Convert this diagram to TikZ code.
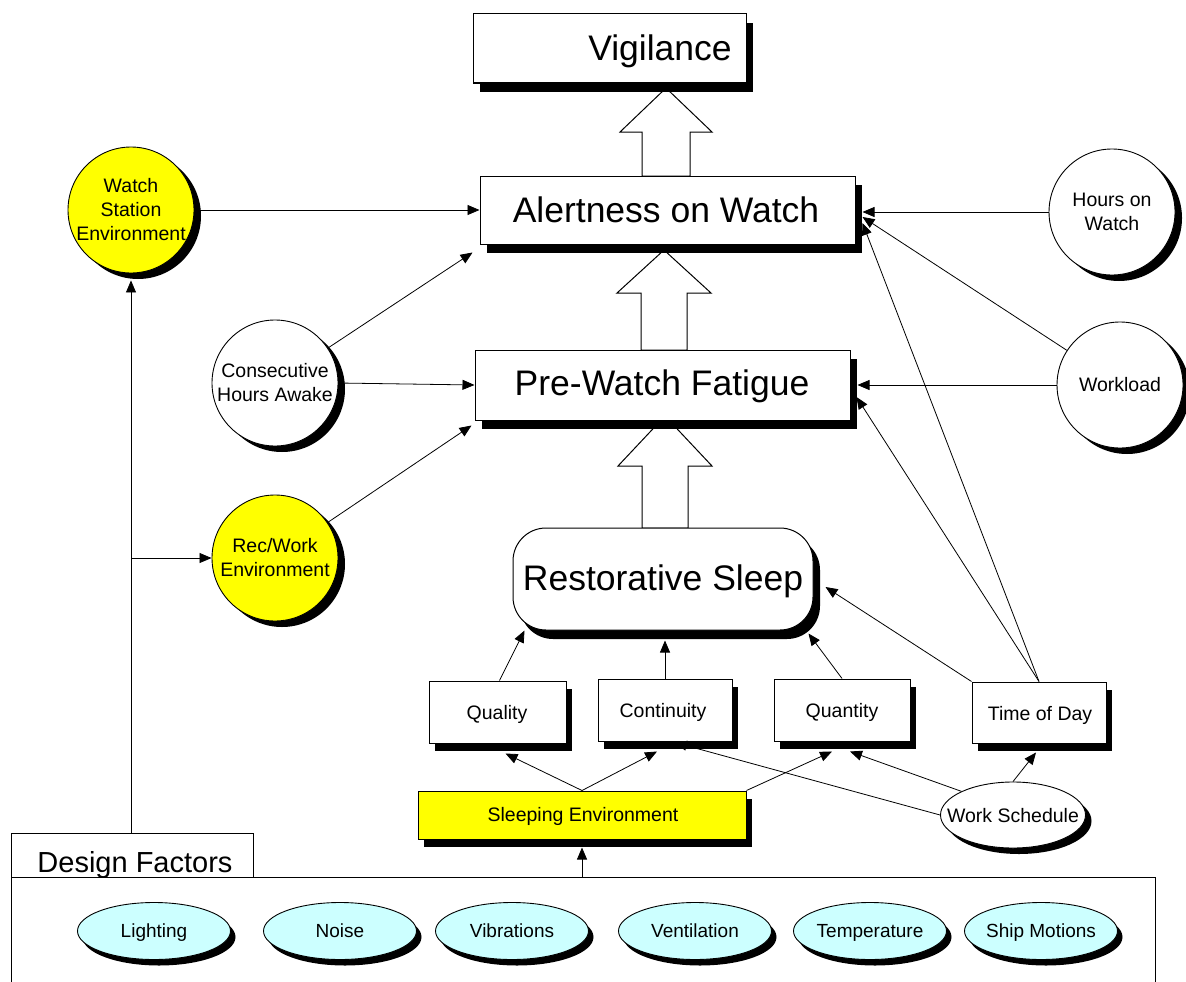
\documentclass[tikz,border=0pt]{standalone}
\usepackage{fontspec}
\setmainfont{Liberation Sans}
\usetikzlibrary{arrows.meta,shapes.geometric,shadows,calc}
\definecolor{yel}{HTML}{FFFF00}
\definecolor{cyn}{HTML}{CCFFFF}
\begin{document}
\begin{tikzpicture}[x=1pt,y=-1pt,
  shad/.style={drop shadow={opacity=1,fill=black,shadow xshift=7pt,shadow yshift=-9pt}},
  sshad/.style={drop shadow={opacity=1,fill=black,shadow xshift=6pt,shadow yshift=-8pt}},
  cshad/.style={drop shadow={opacity=1,fill=black,shadow xshift=7pt,shadow yshift=-6pt}},
  box/.style={draw,fill=white,line width=1pt,inner sep=0pt,shad},
  sbox/.style={draw,fill=white,line width=1pt,inner sep=0pt,sshad},
  bigtxt/.style={font=\fontsize{35.5}{40}\selectfont,inner sep=0pt},
  smtxt/.style={font=\fontsize{19.5}{23}\selectfont,inner sep=0pt},
  circ/.style={circle,draw,fill=white,line width=0.9pt,minimum size=126pt,inner sep=0pt,align=center,cshad,font=\fontsize{19.5}{24}\selectfont},
  ell/.style={ellipse,draw,fill=cyn,line width=0.9pt,minimum width=153pt,minimum height=57pt,inner sep=0pt,text height=13.6pt,text depth=0pt,drop shadow={opacity=1,fill=black,shadow xshift=5pt,shadow yshift=-6pt},font=\fontsize{19}{23}\selectfont},
  conn/.style={line width=0.8pt,-{Triangle[length=12pt,width=10pt]}},
  blk/.style={draw,fill=white,line width=1pt}]
\useasboundingbox (0,0) rectangle (1186,982);

% block arrows (drawn first, boxes cover their ends)
\draw[blk] (642,176) -- (642,132) -- (620,132) -- (666,88) -- (712,132) -- (690,132) -- (690,176) -- cycle;
\draw[blk] (641,350) -- (641,293) -- (617,293) -- (664,250) -- (711,293) -- (687,293) -- (687,350) -- cycle;
\draw[blk] (642,528) -- (642,466) -- (618,466) -- (665,416) -- (712,466) -- (688,466) -- (688,528) -- cycle;

% main boxes
\node[box,minimum width=273pt,minimum height=69pt] (vig) at (609.5,48.5) {};
\node[bigtxt,anchor=base] (vigt) at (660,60) {Vigilance};
\node[box,minimum width=375pt,minimum height=68pt] (alert) at (667.5,210) {};
\node[bigtxt,anchor=base] (alertt) at (666,222) {Alertness on Watch};
\node[box,minimum width=375pt,minimum height=70pt] (pre) at (662.5,385) {};
\node[bigtxt,anchor=base] (pret) at (662,395) {Pre-Watch Fatigue};
\node[box,rounded corners=33pt,minimum width=300pt,minimum height=102pt] (rest) at (663,579) {};
\node[bigtxt,anchor=base] (restt) at (663,590) {Restorative Sleep};

% small boxes
\node[sbox,minimum width=137pt,minimum height=62pt] (quality) at (497.5,712) {};
\node[smtxt,anchor=base] (qualityt) at (497,719) {Quality};
\node[sbox,minimum width=134pt,minimum height=62pt] (cont) at (665,710) {};
\node[smtxt,anchor=base] (contt) at (663,717) {Continuity};
\node[sbox,minimum width=136pt,minimum height=62pt] (quant) at (842,710) {};
\node[smtxt,anchor=base] (quantt) at (842,717) {Quantity};
\node[sbox,minimum width=134pt,minimum height=61pt] (tod) at (1039,712.5) {};
\node[smtxt,anchor=base] (todt) at (1040,720) {Time of Day};
\node[sbox,fill=yel,minimum width=328pt,minimum height=48pt] (sleep) at (582,815) {};
\node[smtxt,anchor=base] (sleept) at (583,821) {Sleeping Environment};
\node[ellipse,draw,fill=white,line width=0.9pt,minimum width=145pt,minimum height=66pt,inner sep=0pt,
      text height=14pt,text depth=0pt,
      drop shadow={opacity=1,fill=black,shadow xshift=6pt,shadow yshift=-6pt},
      font=\fontsize{19.5}{23}\selectfont] (work) at (1013,815) {\makebox[0pt]{Work Schedule}};

% circles
\node[circ,fill=yel] (watch) at (131,210) {Watch\\Station\\Environment};
\node[circ] (consec) at (275,383) {Consecutive\\Hours Awake};
\node[circ,fill=yel] (recwork) at (275,558) {Rec/Work\\Environment};
\node[circ] (hours) at (1112,212) {Hours on\\Watch};
\node[circ] (workload) at (1120,385) {Workload};

% design factors panel
\node[draw,line width=0.9pt,minimum width=242pt,minimum height=44pt,inner sep=0pt,anchor=north west] (dftab) at (11,833) {};
\node[font=\fontsize{29}{32}\selectfont,inner sep=0pt,anchor=base] (dftabt) at (135,872) {Design Factors};
\draw[line width=0.9pt] (11,982) -- (11,877) -- (1155,877) -- (1155,982);
\node[ell] (light) at (154,931) {\makebox[0pt]{Lighting}};
\node[ell] (noise) at (340,931) {\makebox[0pt]{Noise}};
\node[ell] (vib) at (512,931) {\makebox[0pt]{Vibrations}};
\node[ell] (vent) at (695,931) {\makebox[0pt]{Ventilation}};
\node[ell] (temp) at (870,931) {\makebox[0pt]{Temperature}};
\node[ell] (ship) at (1041,931) {\makebox[0pt]{Ship Motions}};
\coordinate (dfs) at (582,877);
\coordinate (dft) at (131,833);
\coordinate (br) at (131,558);

% connectors
\draw[conn] (watch.east) -- (alert.west);
\draw[conn] (consec) -- ($(alert.south west)+(-7,8)$);
\draw[conn] (consec.east) -- (pre.west);
\draw[conn] (recwork) -- ($(pre.south west)+(-3,5)$);
\draw[conn] (hours.west) -- ($(alert.east)+(7,2)$);
\draw[conn] (workload) -- ($(alert.east)+(7,7)$);
\draw[conn] (workload.west) -- ($(pre.east)+(7,0)$);
\draw[conn] (tod.north) -- ($(alert.east)+(7,13)$);
\draw[conn] (tod.north) -- ($(pre.east)+(6,12)$);
\draw[conn] (tod.north west) -- ($(rest.east)+(12,8)$);
\draw[conn] ($(quality.north)+(2,0)$) -- ($(rest.south west)+(12,0)$);
\draw[conn] (cont.north) -- ($(rest.south)+(2,10)$);
\draw[conn] (quant.north) -- ($(rest.south east)+(-5,3)$);
\draw[conn] (sleep.north) -- ($(quality.south)+(8,10)$);
\draw[conn] (sleep.north) -- ($(cont.south)+(-8,10)$);
\draw[conn] (sleep.north east) -- ($(quant.south)+(-10,10)$);
\draw[conn] (work.west) -- ($(cont.south)+(10,1)$);
\draw[conn] (work.north west) -- ($(quant.south)+(8,10)$);
\draw[conn] (work.north) -- ($(tod.south)+(-3,9)$);
\draw[conn] (dfs) -- ($(sleep.south)+(0,8)$);
\draw[conn] (dft) -- ($(watch.south)+(0,7)$);
\draw[conn] (br) -- (recwork.west);
\end{tikzpicture}
\end{document}
